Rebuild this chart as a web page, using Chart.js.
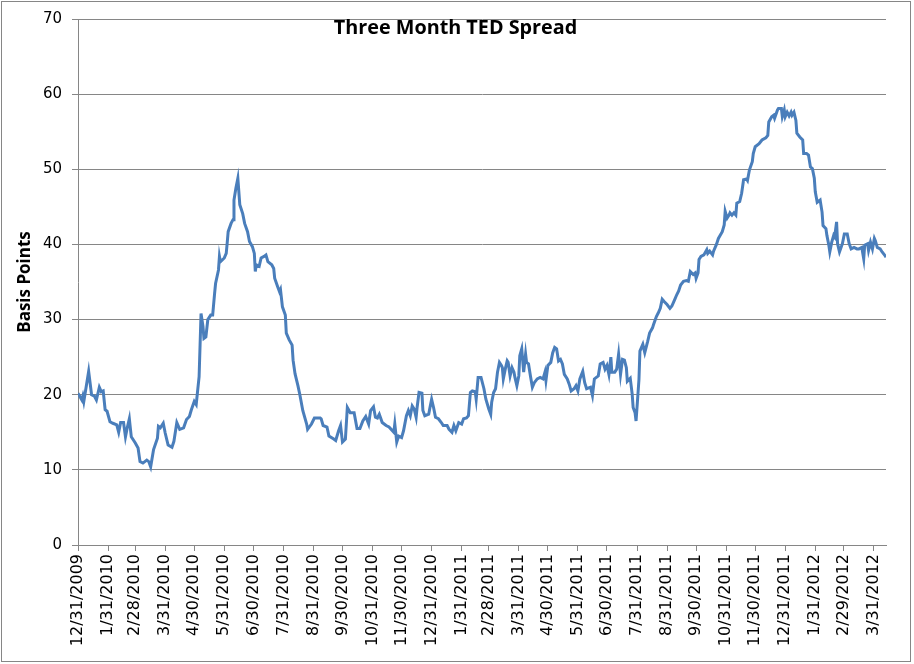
<!DOCTYPE html>
<html>
<head>
<meta charset="utf-8">
<script src="https://cdn.jsdelivr.net/npm/chart.js@4.4.1/dist/chart.umd.min.js"></script>
<style>
html,body{margin:0;padding:0;background:#fff;}
#wrap{width:914px;height:664px;position:relative;}
canvas{display:block;}
</style>
</head>
<body>
<div id="wrap"><canvas id="c" width="914" height="664"></canvas></div>
<script>
const chartTitle = "Three Month TED Spread";
const yAxisTitle = "Basis Points";
const startDate = "12/31/2009";

// days elapsed since startDate for each observation
const dayOffsets = [
0,4,5,6,11,14,17,19,22,24,26,28,30,33,36,40,42,44,47,49,51,53,55,59,62,64,67,71,73,75,
78,82,83,85,88,90,93,97,99,102,105,109,112,115,117,120,122,125,127,129,130,132,134,137,139,141,142,145,146,147,
151,153,154,155,158,160,161,163,165,167,170,172,175,177,180,182,183,184,187,189,192,194,196,200,202,203,206,208,209,211,
214,215,218,221,222,224,227,229,232,236,237,241,244,250,251,253,257,259,264,266,269,271,273,276,278,281,285,288,291,294,
297,300,302,305,307,309,311,314,318,321,326,327,329,331,334,336,339,341,343,345,347,349,350,352,355,356,358,362,363,365,
367,369,372,375,377,381,383,386,388,390,393,396,398,401,403,405,407,410,411,413,416,419,421,424,426,427,429,431,433,435,
437,438,439,441,443,444,446,448,450,451,453,455,456,458,460,462,463,465,467,469,471,474,477,480,482,483,485,488,490,492,
494,496,498,500,502,505,507,509,512,514,516,518,521,523,525,529,531,533,537,539,542,544,546,548,550,551,554,556,558,560,
562,564,566,567,570,572,573,575,576,577,579,580,583,585,588,590,593,594,597,599,601,603,605,608,611,613,616,618,620,622,
625,628,630,632,635,637,638,640,641,643,646,649,650,652,655,656,659,661,665,667,668,670,672,673,675,677,679,680,683,685,
687,690,691,693,696,697,699,703,706,710,712,713,716,718,719,722,723,726,727,729,730,732,734,736,737,739,741,742,745,748,
749,752,754,756,758,760,761,763,766,768,769,772,773,775,776,778,780,781,783,784,786,789,791,794,796,798,801,804,806,809,
811,812,815,816,818,820,822,823,825,828,830,833,834
];

// Three month TED spread, basis points
const tedSpread = [
20.2,19.3,19.8,19.1,23.1,20.0,19.8,19.3,21.0,20.4,20.5,18.0,17.8,16.4,16.2,16.0,15.0,16.3,16.3,14.4,15.7,16.8,14.4,13.6,12.9,11.1,10.9,11.3,11.1,10.4,
12.7,14.2,15.8,15.6,16.2,14.9,13.3,13.0,13.8,16.3,15.4,15.6,16.7,17.1,18.0,19.1,18.7,22.4,30.8,29.1,27.5,27.7,30.0,30.6,30.6,33.5,34.8,36.6,38.4,37.7,
38.2,38.8,40.2,41.7,42.8,43.3,45.9,47.5,48.8,45.3,44.1,42.8,41.7,40.4,39.7,38.8,36.4,37.3,37.1,38.2,38.4,38.6,37.7,37.3,36.8,35.5,34.4,33.7,34.0,31.7,
30.6,28.2,27.3,26.6,24.6,22.8,21.2,20.0,17.9,16.1,15.4,16.1,16.9,16.9,16.8,15.9,15.7,14.5,14.1,13.9,15.2,15.9,13.7,14.1,18.3,17.6,17.6,15.5,15.5,16.5,
17.1,16.1,17.9,18.4,17.0,16.9,17.4,16.3,15.9,15.7,15.0,16.1,13.7,14.5,14.3,15.2,17.2,17.9,17.2,18.5,18.1,17.0,18.3,20.3,20.2,17.9,17.2,17.4,18.1,19.4,
18.3,17.0,16.8,16.3,15.9,15.9,15.4,15.0,15.9,15.2,16.3,16.1,16.8,16.9,17.2,20.3,20.5,20.4,19.4,22.3,22.3,20.8,19.4,18.1,17.4,19.0,20.3,20.8,23.0,24.3,
23.9,23.6,22.1,23.4,24.5,24.3,22.5,23.6,23.0,22.3,21.2,22.5,25.2,26.1,23.0,25.4,24.3,24.1,22.5,21.0,21.6,22.1,22.3,22.1,23.0,21.9,23.9,24.3,25.6,26.3,
26.1,24.5,24.7,24.1,22.7,22.1,21.4,20.5,20.8,21.2,20.5,22.1,23.1,21.6,20.8,21.0,19.9,22.1,22.5,24.1,24.3,23.4,23.9,22.7,25.0,23.0,23.0,23.4,25.4,22.7,
24.7,24.6,23.6,21.8,22.2,20.1,18.3,17.6,16.5,18.3,22.0,25.8,26.7,25.6,27.1,28.2,28.9,29.3,30.4,30.9,31.5,32.7,32.4,32.0,31.5,31.8,32.7,33.3,33.8,34.6,
35.1,35.2,35.1,36.4,36.0,36.2,35.5,36.2,38.0,38.4,38.6,39.3,38.8,39.1,38.6,39.1,40.0,40.8,41.7,42.6,44.4,43.5,43.9,44.2,43.9,44.2,43.9,45.5,45.7,46.8,
48.6,48.7,48.5,49.9,51.0,52.1,53.0,53.4,53.9,54.2,54.5,56.3,57.0,57.2,56.8,57.9,58.1,58.1,57.0,57.9,57.0,57.6,57.1,57.6,57.2,57.6,56.5,54.8,54.3,53.9,
52.1,52.1,51.9,50.3,50.1,48.8,47.0,45.6,45.9,44.3,42.5,42.1,41.2,39.9,39.0,40.3,41.2,41.0,43.0,40.1,39.0,40.1,41.4,41.4,40.1,39.4,39.6,39.4,39.4,39.6,
38.1,39.9,40.1,39.2,40.3,39.4,40.8,40.5,39.6,39.4,39.0,38.5,38.3
];

const xTickLabels = [
"12/31/2009","1/31/2010","2/28/2010","3/31/2010","4/30/2010","5/31/2010","6/30/2010","7/31/2010","8/31/2010","9/30/2010",
"10/31/2010","11/30/2010","12/31/2010","1/31/2011","2/28/2011","3/31/2011","4/30/2011","5/31/2011","6/30/2011","7/31/2011",
"8/31/2011","9/30/2011","10/31/2011","11/30/2011","12/31/2011","1/31/2012","2/29/2012","3/31/2012"
];
const yTickValues = [0,10,20,30,40,50,60,70];

function parseMDY(s){ const p = s.split('/').map(Number); return Date.UTC(p[2], p[0]-1, p[1]); }
const t0 = parseMDY(startDate);
const tickDays = xTickLabels.map(s => Math.round((parseMDY(s) - t0) / 86400000));
const labelByDay = {};
tickDays.forEach((d,i) => { labelByDay[d] = xTickLabels[i]; });

const points = dayOffsets.map((d,i) => ({x:d, y:tedSpread[i]}));
const lastDay = dayOffsets[dayOffsets.length-1];

const GRID = '#868686';

const deco = {
  id: 'deco',
  beforeDraw(chart){
    const ctx = chart.ctx;
    ctx.save();
    ctx.fillStyle = '#ffffff';
    ctx.fillRect(0,0,chart.width,chart.height);
    ctx.restore();
  },
  afterDraw(chart){
    const ctx = chart.ctx;
    ctx.save();
    ctx.strokeStyle = GRID;
    ctx.lineWidth = 1;
    ctx.strokeRect(1.5, 1.5, 909, 660);
    ctx.font = 'bold 19.8px "Open Sans"';
    ctx.fillStyle = '#000';
    ctx.textAlign = 'center';
    ctx.textBaseline = 'alphabetic';
    ctx.fillText(chartTitle, 455.5, 34);
    ctx.restore();
  }
};

function build(){
  new Chart(document.getElementById('c'), {
    type: 'line',
    data: {
      datasets: [{
        label: chartTitle,
        data: points,
        borderColor: '#4a7ebb',
        backgroundColor: '#4a7ebb',
        borderWidth: 3,
        pointRadius: 0,
        tension: 0,
        fill: false
      }]
    },
    options: {
      responsive: false,
      animation: false,
      devicePixelRatio: 1,
      layout: { padding: { left: 0, right: 28, top: 19, bottom: 0 } },
      plugins: { legend: { display: false }, tooltip: { enabled: false }, title: { display: false } },
      scales: {
        x: {
          type: 'linear',
          min: 0,
          max: lastDay,
          afterBuildTicks: s => { s.ticks = tickDays.map(v => ({ value: v })); },
          afterFit: s => { s.height = 119; },
          grid: { drawOnChartArea: false, drawTicks: true, tickLength: 6, color: GRID },
          border: { display: true, color: GRID, width: 1 },
          ticks: {
            autoSkip: false, maxRotation: 90, minRotation: 90, padding: 3, color: '#000',
            font: { family: 'DejaVu Sans', size: 16 },
            callback: v => (labelByDay[v] !== undefined ? labelByDay[v] : '')
          }
        },
        y: {
          min: 0,
          max: 70,
          afterBuildTicks: s => { s.ticks = yTickValues.map(v => ({ value: v })); },
          afterFit: s => { s.width = 78; },
          grid: { color: GRID, drawTicks: true, tickLength: 6 },
          border: { display: true, color: GRID, width: 1 },
          ticks: { padding: 10, color: '#000', font: { family: 'DejaVu Sans', size: 15 } },
          title: {
            display: true, text: yAxisTitle, color: '#000',
            font: { family: 'Open Sans', weight: 'bold', size: 17 },
            padding: { top: 15, bottom: 0 }
          }
        }
      }
    },
    plugins: [deco]
  });
}

Promise.all([
  document.fonts.load('bold 19.8px "Open Sans"'),
  document.fonts.load('bold 17px "Open Sans"'),
  document.fonts.load('15px "DejaVu Sans"')
]).then(build, build);
</script>
</body>
</html>
